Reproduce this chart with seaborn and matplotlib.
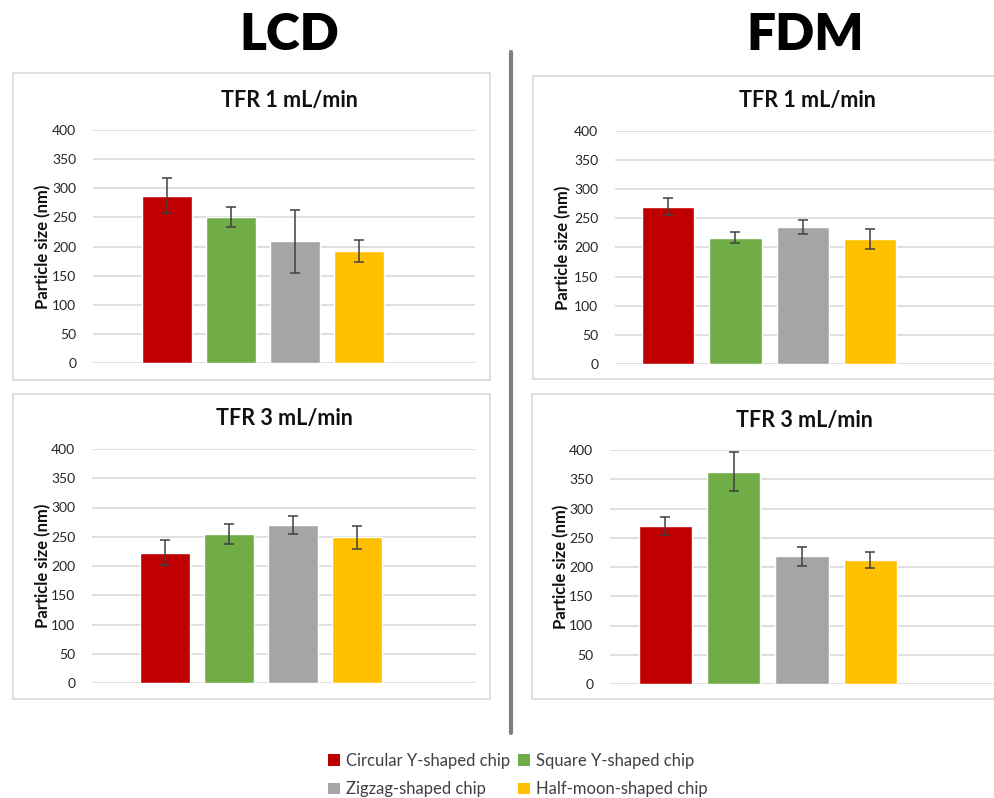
import matplotlib
matplotlib.use("Agg")
import matplotlib.pyplot as plt
from matplotlib.patches import Rectangle, Patch
from matplotlib.lines import Line2D
import seaborn as sns
import pandas as pd

chips = ["Circular Y-shaped chip", "Square Y-shaped chip",
         "Zigzag-shaped chip", "Half-moon-shaped chip"]
colors = ["#C00000", "#70AD47", "#A5A5A5", "#FFC000"]

lcd_tfr1 = [287, 251, 209, 192]
lcd_tfr1_err = [30, 17, 54, 19]
lcd_tfr3 = [223, 255, 270, 249]
lcd_tfr3_err = [21, 17, 16, 20]
fdm_tfr1 = [270, 217, 236, 215]
fdm_tfr1_err = [15, 9, 12, 17]
fdm_tfr3 = [270, 363, 218, 212]
fdm_tfr3_err = [16, 33, 17, 14]

yticks = [0, 50, 100, 150, 200, 250, 300, 350, 400]

sns.set_style("white")
plt.rcParams["font.family"] = ["Lato", "DejaVu Sans"]

W, H = 994, 798
fig = plt.figure(figsize=(W / 100, H / 100), dpi=100)


def px_rect(x0, y0, x1, y1):
    """Convert pixel box (top-left origin) to figure fractions."""
    return [x0 / W, 1 - y1 / H, (x1 - x0) / W, (y1 - y0) / H]


panels = [
    # (values, errors, title, axes box, xlim, frame box, title pos, ylabel x)
    (lcd_tfr1, lcd_tfr1_err, "TFR 1 mL/min", (93, 130, 475, 363), (-1.15, 4.80),
     (13, 73, 490, 380), (289, 100), 43),
    (fdm_tfr1, fdm_tfr1_err, "TFR 1 mL/min", (615, 131, 1000, 364), (-0.79, 4.93),
     (533, 76, 1010, 379), (807, 101), 563),
    (lcd_tfr3, lcd_tfr3_err, "TFR 3 mL/min", (92, 449, 476, 683), (-1.14, 4.86),
     (13, 394, 490, 699), (284, 419), 43),
    (fdm_tfr3, fdm_tfr3_err, "TFR 3 mL/min", (610, 450, 1000, 684), (-0.81, 4.9),
     (532, 394, 1010, 699), (804, 420), 561),
]

for vals, errs, title, box, xlim, frame, tpos, ylx in panels:
    fx0, fy0, fx1, fy1 = frame
    fig.patches.append(Rectangle((fx0 / W, 1 - fy1 / H), (fx1 - fx0) / W, (fy1 - fy0) / H,
                                 transform=fig.transFigure, facecolor="white",
                                 edgecolor="#d9d9d9", lw=1.2, zorder=-5))
    ax = fig.add_axes(px_rect(*box), zorder=2)
    ax.set_facecolor("none")
    df = pd.DataFrame({"chip": chips, "size": vals})
    sns.barplot(data=df, x="chip", y="size", hue="chip", palette=colors,
                order=chips, hue_order=chips, width=0.78, saturation=1,
                legend=False, ax=ax, errorbar=None, zorder=3)
    ax.errorbar(range(len(vals)), vals, yerr=errs, fmt="none", ecolor="#404040",
                elinewidth=1.1, capsize=3.5, capthick=1.1, zorder=4)
    ax.set_xlim(*xlim)
    ax.set_ylim(0, 400)
    ax.set_yticks(yticks)
    ax.yaxis.grid(True, color="#d9d9d9", lw=1.2, zorder=0)
    ax.set_axisbelow(True)
    ax.set_xticks([])
    ax.set_xlabel("")
    ax.set_ylabel("")
    for s in ax.spines.values():
        s.set_visible(False)
    ax.tick_params(axis="y", length=0, pad=12, labelsize=10, labelcolor="#262626")
    fig.text(tpos[0] / W, 1 - tpos[1] / H, title, ha="center", va="center",
             fontsize=15.5, fontweight="bold", color="#111111")
    fig.text(ylx / W, 1 - (box[1] + box[3]) / 2 / H, "Particle size (nm)",
             rotation=90, ha="center", va="center", fontsize=12,
             fontweight="bold", color="#111111")

fig.text(289 / W, 1 - 35 / H, "LCD", ha="center", va="center",
         fontsize=37, fontweight="heavy", color="black")
fig.text(805 / W, 1 - 35 / H, "FDM", ha="center", va="center",
         fontsize=37, fontweight="heavy", color="black")

fig.add_artist(Line2D([511 / W, 511 / W], [1 - 52 / H, 1 - 733 / H],
                      color="#808080", lw=3, transform=fig.transFigure))

# legend fills column-wise, so order handles to read row by row
order = [0, 2, 1, 3]
handles = [Patch(facecolor=colors[i], edgecolor="none", label=chips[i]) for i in order]
fig.legend(handles=handles, ncol=2, loc="center", bbox_to_anchor=(518 / W, 1 - 775 / H),
           frameon=False, fontsize=12, handlelength=0.7, handleheight=0.7,
           handletextpad=0.35, columnspacing=0.5, labelspacing=0.75,
           labelcolor="#404040")

fig.savefig("out.png", dpi=100, facecolor="white")
